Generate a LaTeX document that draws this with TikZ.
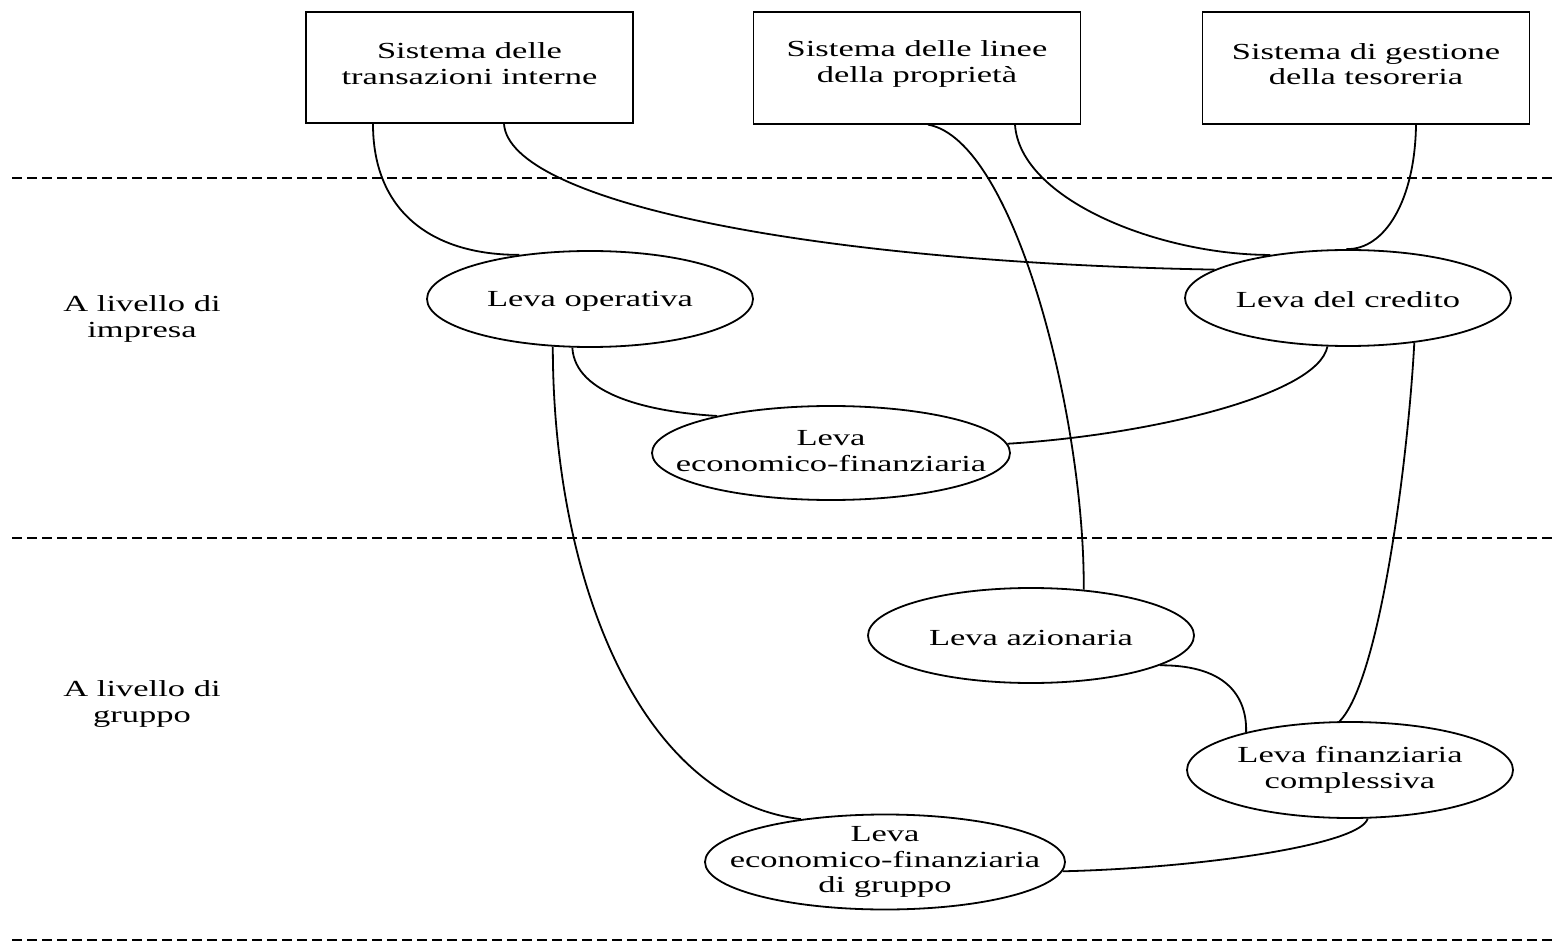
\documentclass[tikz,border=0pt]{standalone}
\usepackage{fontspec}
\setmainfont{Liberation Serif}[FakeStretch=1.5]
\usetikzlibrary{shapes.geometric,calc}
\begin{document}
\begin{tikzpicture}[x=0.5pt,y=-0.5pt,
  txt/.style={font=\fontsize{11.5}{12.75}\selectfont, align=center, inner sep=0pt},
  sysbox/.style={draw, line width=0.9pt, minimum width=163.5pt, minimum height=55.75pt, inner sep=0pt},
  leva/.style={draw, ellipse, line width=0.9pt, minimum width=163pt, minimum height=48pt, inner sep=0pt},
  link/.style={line width=0.9pt},
  sep/.style={dash pattern=on 4.75pt off 2.75pt, line width=0.8pt}]
\useasboundingbox (0,0) rectangle (1557,946);

% separators
\draw[sep] (12,178) -- (1557,178);
\draw[sep] (12,538) -- (1557,538);
\draw[sep] (12,940) -- (1557,940);

% level labels
\node[txt] (l1) at (142,319) {A livello di\\impresa};
\node[txt] (l2) at (142,704) {A livello di\\gruppo};

% systems
\node[sysbox] (b1) at (469.5,67.5) {};
\node[txt] (b1t) at ($(b1)+(0,-4)$) {Sistema delle\\transazioni interne};
\node[sysbox] (b2) at (917,68) {};
\node[txt] (b2t) at ($(b2)+(0,-4)$) {Sistema delle linee\\della propriet\`a};
\node[sysbox] (b3) at (1366,68) {};
\node[txt] (b3t) at ($(b3)+(0,-4)$) {Sistema di gestione\\della tesoreria};

% levers
\node[leva] (op) at (590,299) {};
\node[txt] (opt) at ($(op)+(0,2)$) {Leva operativa};
\node[leva] (cr) at (1348,298) {};
\node[txt] (crt) at ($(cr)+(0,2)$) {Leva del credito};
\node[leva, minimum width=179pt, minimum height=47pt] (ec) at (831,453) {};
\node[txt] (ect) at ($(ec)+(0,-2)$) {Leva\\economico-finanziaria};
\node[leva, minimum height=47.5pt] (az) at (1031,635.5) {};
\node[txt] (azt) at ($(az)+(0,2)$) {Leva azionaria};
\node[leva] (fc) at (1350,770) {};
\node[txt] (fct) at (fc) {Leva finanziaria\\complessiva};
\node[leva, minimum width=180pt, minimum height=47.5pt] (gr) at (885,862) {};
\node[txt] (grt) at (gr) {Leva\\economico-finanziaria\\di gruppo};

% connectors
\draw[link] ($(b1.south)+(-96.5,0)$) .. controls (373,210) and (430,255) .. (op.148);
\draw[link] ($(b1.south)+(34.5,0)$) .. controls (510,200) and (800,262) .. (cr.168);
\draw[link] ($(b2.south)+(11,0)$) .. controls (1015,140) and (1085,420) .. (az.41);
\draw[link] ($(b2.south)+(98,0)$) .. controls (1020,200) and (1160,255) .. (cr.151);
\draw[link] ($(b3.south)+(50,0)$) .. controls (1415,200) and (1385,250) .. (cr.92);
\draw[link] (op.250) .. controls (575,395) and (650,412) .. (ec.162);
\draw[link] (ec.3) .. controls (1150,435) and (1318,395) .. (cr.247);
\draw[link] (op.232) .. controls (553,580) and (640,800) .. (gr.153);
\draw[link] (cr.-34) .. controls (1408,460) and (1380,680) .. (fc.102);
\draw[link] (az.-13) .. controls (1230,665) and (1247,700) .. (fc.160);
\draw[link] (fc.-70) .. controls (1360,845) and (1200,868) .. (gr.-3);
\end{tikzpicture}
\end{document}
